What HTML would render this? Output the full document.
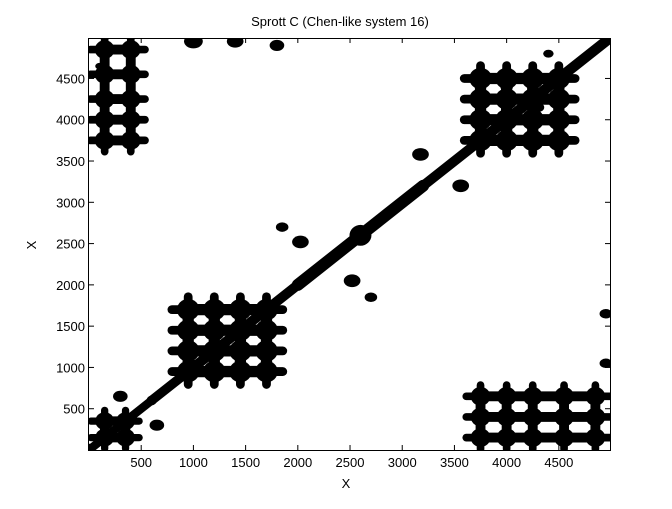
<!DOCTYPE html>
<html><head><meta charset="utf-8"><style>
body{margin:0;background:#fff;font-family:"Liberation Sans",sans-serif}
svg text{font-family:"Liberation Sans",sans-serif;font-size:13px}
</style></head><body>
<svg id="c" width="672" height="504">
<rect x="0" y="0" width="672" height="504" fill="#fff"/>
<g id="plot"></g>
<rect x="88.5" y="38.5" width="522" height="412" fill="none" stroke="#000"/>
<g id="ticks"></g>
<text x="340" y="26" text-anchor="middle">Sprott C (Chen-like system 16)</text>
<text x="346" y="488" text-anchor="middle" font-size="14">X</text>
<text x="36" y="245" text-anchor="middle" transform="rotate(-90 36 245)">X</text>
</svg>
<script>
const tickValues=[500,1000,1500,2000,2500,3000,3500,4000,4500];
const domainMax=4990;
const clusterXs=[[950,1200,1450,1700],[3750,4000,4250,4500],[3750,4000,4250,4550,4850],[150,400]];
const clusterYs=[[950,1200,1450,1700],[3750,4000,4250,4500],[150,400,650],[3750,4000,4250,4550,4850]];
const clusterR=[120,120,105,105];
const cornerXs=[150,350];const cornerYs=[150,350];
const blobX=[2025,2520,3175,3560,1850,2700,650,300,4950,4950,1000,1400,1800,4000,4300,180,4400,100];
const blobY=[2520,2050,3580,3200,2700,1850,300,650,1650,1050,4950,4950,4900,4400,4150,4850,4800,4650];
const blobR=[80,80,80,80,60,60,70,70,60,60,90,80,70,60,60,50,50,40];
const diagPoints=[0,600,1000,2000,2600,3200,3800,4990];
const diagWidth=[90,70,110,80,150,80,110,90];

const L=89,R=610,T=38,B=450;
const sx=v=>L+v/domainMax*(R-L);
const sy=v=>B-v/domainMax*(B-T);
const NS="http://www.w3.org/2000/svg";
const plot=document.getElementById('plot');
function mk(tag,a){const e=document.createElementNS(NS,tag);for(const k in a)e.setAttribute(k,a[k]);return e;}
const cp=mk('clipPath',{id:'clp'});cp.appendChild(mk('rect',{x:L,y:T,width:R-L,height:B-T}));
document.getElementById('c').appendChild(cp);
plot.setAttribute('clip-path','url(#clp)');
function ell(x,y,rx,ry){const e=mk('ellipse',{cx:sx(x),cy:sy(y),rx:rx*(R-L)/domainMax,ry:ry*(B-T)/domainMax*1.2,fill:'#000'});


plot.appendChild(e);}
function bar(x1,y1,x2,y2,w){const e=mk('line',{x1:sx(x1),y1:sy(y1),x2:sx(x2),y2:sy(y2),stroke:'#000','stroke-width':w*(R-L)/domainMax,'stroke-linecap':'round'});


plot.appendChild(e);}
for(let i=0;i<diagPoints.length-1;i++){bar(diagPoints[i],diagPoints[i],diagPoints[i+1],diagPoints[i+1],(diagWidth[i]+diagWidth[i+1])/2);ell(diagPoints[i],diagPoints[i],diagWidth[i]*0.7,diagWidth[i]*0.7);}
function lattice(xs,ys,r){
 xs.forEach(x=>ys.forEach(y=>{ell(x,y,r*0.9,r*0.9);bar(x-r*1.3,y,x+r*1.3,y,r*0.7);bar(x,y-r*1.3,x,y+r*1.3,r*0.7);}));
 for(let i=0;i<xs.length-1;i++)ys.forEach(y=>bar(xs[i],y,xs[i+1],y,r*0.9));
 for(let j=0;j<ys.length-1;j++)xs.forEach(x=>bar(x,ys[j],x,ys[j+1],r*0.9));
}
clusterXs.forEach((xs,i)=>lattice(xs,clusterYs[i],clusterR[i]));
lattice(cornerXs,cornerYs,100);
blobX.forEach((x,i)=>ell(x,blobY[i],blobR[i],blobR[i]*0.8));
const tg=document.getElementById('ticks');
tickValues.forEach(v=>{
 const x=sx(v),y=sy(v);
 let e=mk('line',{x1:x,y1:B,x2:x,y2:B-5,stroke:'#000'});tg.appendChild(e);
 e=mk('line',{x1:x,y1:T,x2:x,y2:T+5,stroke:'#000'});tg.appendChild(e);
 e=mk('line',{x1:L,y1:y,x2:L+5,y2:y,stroke:'#000'});tg.appendChild(e);
 e=mk('line',{x1:R,y1:y,x2:R-5,y2:y,stroke:'#000'});tg.appendChild(e);
 let t=mk('text',{x:x,y:B+17,'text-anchor':'middle'});t.textContent=v;tg.appendChild(t);
 t=mk('text',{x:L-4,y:y+5,'text-anchor':'end'});t.textContent=v;tg.appendChild(t);
});
</script>
</body></html>
